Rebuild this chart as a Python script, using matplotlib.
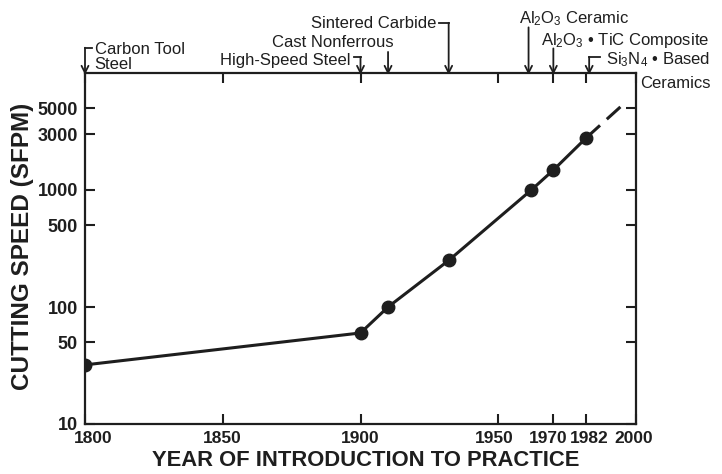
import numpy as np
import matplotlib
matplotlib.use("Agg")
import matplotlib.pyplot as plt
from matplotlib.transforms import ScaledTranslation

plt.rcParams['font.family'] = ['Liberation Sans', 'DejaVu Sans']
plt.rcParams['mathtext.fontset'] = 'custom'
plt.rcParams['mathtext.rm'] = 'Liberation Sans'
plt.rcParams['mathtext.it'] = 'Liberation Sans'

INK = "#1e1e1e"

# tool materials: year of introduction and cutting speed (sfpm)
years = [1800, 1900, 1910, 1932, 1962, 1970, 1982]
speeds = [32, 60, 100, 250, 1000, 1480, 2800]
proj_years = [1982, 1995]
proj_speeds = [2800, 5300]

xticks = [1800, 1850, 1900, 1950, 1970, 1982, 2000]
yticks = [10, 50, 100, 500, 1000, 3000, 5000]
# small horizontal nudges (points) so the crowded year labels don't collide
xtick_shift = [6, 0, 0, -3, -4, 2, -2]

# (arrow year, text, arrow top in axes frac, text x year, text y frac, ha, hook end year)
labels = [
    (1800, "Carbon Tool\nSteel", 1.072, 1803.5, 1.046, "left", 1802.5),
    (1900, "High-Speed Steel", 1.046, 1896.5, 1.035, "right", 1897.5),
    (1910, "Cast Nonferrous", 1.06, 1912.0, 1.086, "right", None),
    (1932, "Sintered Carbide", 1.143, 1927.5, 1.142, "right", 1928.5),
    (1961, "Al$_2$O$_3$ Ceramic", 1.13, 1957.5, 1.154, "left", None),
    (1970, "Al$_2$O$_3$ • TiC Composite", 1.07, 1965.5, 1.094, "left", None),
    (1983, "Si$_3$N$_4$ • Based", 1.046, 1989.0, 1.037, "left", 1987.0),
]

fig = plt.figure(figsize=(7.22, 4.74), dpi=100)
ax = fig.add_axes([85 / 722, 1 - 424 / 474, (636 - 85) / 722, (424 - 73) / 474])

ax.plot(years, speeds, color=INK, lw=2.2, marker="o", ms=9, zorder=3)
ax.plot(proj_years, proj_speeds, color=INK, lw=2.2, dashes=(6, 3))

ax.set_yscale("log")
ax.set_xlim(1800, 2000)
ax.set_ylim(10, 10000)
ax.set_xticks(xticks)
ax.set_xticklabels([str(t) for t in xticks])
ax.set_yticks(yticks)
ax.set_yticklabels([str(t) for t in yticks])
ax.yaxis.set_minor_locator(matplotlib.ticker.NullLocator())

ax.tick_params(axis="both", direction="in", length=7, width=1.5, color=INK,
               top=True, right=True, labelcolor=INK, pad=5)
ax.tick_params(axis="x", labelsize=12.5)
ax.tick_params(axis="y", labelsize=13)
for lab in ax.get_xticklabels() + ax.get_yticklabels():
    lab.set_fontweight("bold")
for lab, dx in zip(ax.get_xticklabels(), xtick_shift):
    lab.set_transform(lab.get_transform() + ScaledTranslation(dx / 72, 0, fig.dpi_scale_trans))
for sp in ax.spines.values():
    sp.set_linewidth(1.6)
    sp.set_color(INK)

ax.set_xlabel("YEAR OF INTRODUCTION TO PRACTICE", fontsize=15.8,
              fontweight="bold", color=INK)
ax.set_ylabel("CUTTING SPEED (SFPM)", fontsize=17.5, fontweight="bold", color=INK)
ax.xaxis.set_label_coords(0.51, -0.103)
ax.yaxis.set_label_coords(-0.114, 0.505)
ax.xaxis.label.set_va("center")
ax.yaxis.label.set_va("center")

tr = ax.get_xaxis_transform()
for yr, txt, top, tx, ty, ha, hook in labels:
    ax.annotate("", xy=(yr, 0.995), xytext=(yr, top), xycoords=tr, textcoords=tr,
                arrowprops=dict(arrowstyle="->,head_length=0.5,head_width=0.25",
                                color=INK, lw=1.3, shrinkA=0, shrinkB=0),
                annotation_clip=False)
    if hook is not None:
        ax.plot([yr, hook], [top, top], color=INK, lw=1.3, transform=tr,
                clip_on=False)
    ax.text(tx, ty, txt, transform=tr, ha=ha, va="center", fontsize=12,
            color=INK, linespacing=0.95)

ax.text(1.008, 0.97, "Ceramics", transform=ax.transAxes, ha="left",
        va="center", fontsize=12, color=INK)

fig.savefig("out.png", dpi=100)
